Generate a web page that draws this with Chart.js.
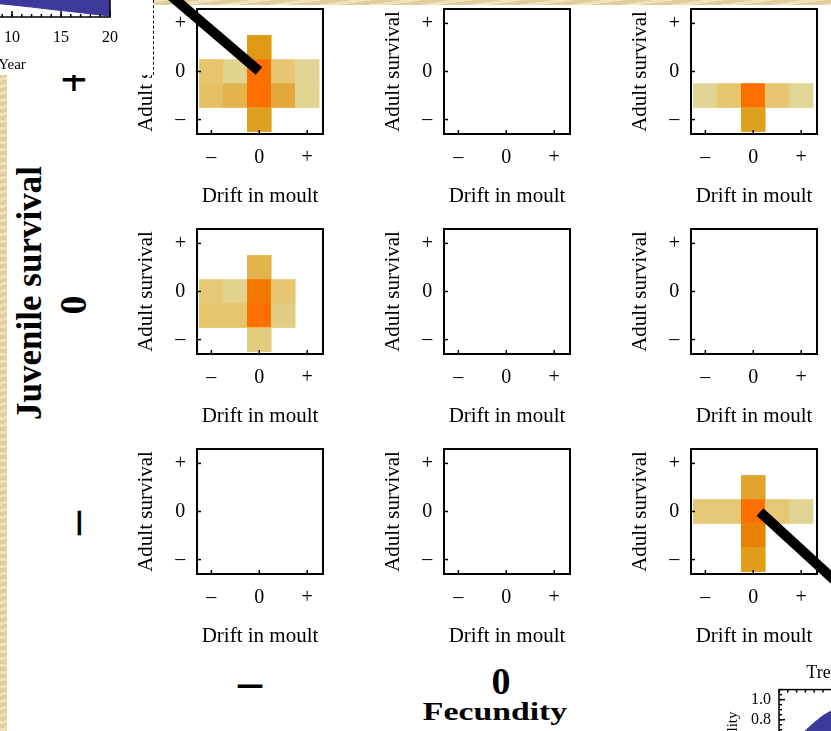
<!DOCTYPE html>
<html>
<head>
<meta charset="utf-8">
<script src="https://cdn.jsdelivr.net/npm/chart.js@4.4.1/dist/chart.umd.min.js"></script>
<style>
html, body { margin: 0; padding: 0; }
body {
  width: 831px; height: 731px; overflow: hidden; position: relative;
  background-color: #e9d6a8;
  background-image: repeating-linear-gradient(172deg, rgba(255,248,228,.35) 0 3px, rgba(196,164,100,.18) 3px 7px);
}
#slide { position: absolute; left: 7px; top: 5px; right: 0; bottom: 0; background: #fff; }
canvas { position: absolute; }
.big {
  position: absolute; font-family: 'Liberation Serif', serif; font-weight: bold; color: #000;
  white-space: nowrap; line-height: 1; transform: translate(-50%, -50%);
}
.rot { transform: translate(-50%, -50%) rotate(-90deg); }
.inset { position: absolute; background: #fff; overflow: hidden; }
.arrow { position: absolute; height: 10px; background: #000; transform-origin: 0 50%; }
</style>
</head>
<body>
<div id="slide"></div>

<div class="big rot" style="left:29px;top:293px;font-size:35px">Juvenile survival</div>
<div class="big" style="left:74px;top:80px;font-size:48px">+</div>
<div class="big rot" style="left:73px;top:305px;font-size:38px">0</div>
<div class="big rot" style="left:75px;top:523px;font-size:48px">–</div>
<div class="big" style="left:250px;top:682px;font-size:48px">–</div>
<div class="big" style="left:501px;top:681px;font-size:38px">0</div>
<div class="big" style="left:495px;top:711px;font-size:25px;transform:translate(-50%,-50%) scaleX(1.35)">Fecundity</div>

<div id="panels"></div>

<div class="inset" id="insetTL" style="left:0;top:0;width:153px;height:75px;border-right:1.5px dashed #000"></div>
<div class="inset" id="insetBR" style="left:700px;top:650px;width:131px;height:81px"></div>

<div class="arrow" style="left:170px;top:-10px;width:117px;transform:rotate(40.5deg)"></div>
<div class="arrow" style="left:760px;top:507px;width:115px;transform:rotate(42.5deg)"></div>

<script>
// tick labels shared by every small panel
const tickValues = [-1, 0, 1];
const tickLabels = ['–', '0', '+'];

// cells: [drift in moult, adult survival, intensity 0..1]
const panelJuvPlusFecMinus = [
  [0, 0.5, 0.75],
  [-1, 0, 0.27], [-0.5, 0, 0.06], [0, 0, 1], [0.5, 0, 0.25], [1, 0, 0.02],
  [-1, -0.5, 0.33], [-0.5, -0.5, 0.5], [0, -0.5, 1], [0.5, -0.5, 0.6], [1, -0.5, 0.05],
  [0, -1, 0.7]
];
const panelJuvPlusFecZero = [];
const panelJuvPlusFecPlus = [
  [-1, -0.5, 0.02], [-0.5, -0.5, 0.27], [0, -0.5, 1], [0.5, -0.5, 0.25], [1, -0.5, 0],
  [0, -1, 0.7]
];
const panelJuvZeroFecMinus = [
  [0, 0.5, 0.5],
  [-1, 0, 0.2], [-0.5, 0, 0.06], [0, 0, 0.94], [0.5, 0, 0.25],
  [-1, -0.5, 0.27], [-0.5, -0.5, 0.27], [0, -0.5, 1], [0.5, -0.5, 0.14],
  [0, -1, 0.16]
];
const panelJuvZeroFecZero = [];
const panelJuvZeroFecPlus = [];
const panelJuvMinusFecMinus = [];
const panelJuvMinusFecZero = [];
const panelJuvMinusFecPlus = [
  [0, 0.5, 0.65],
  [-1, 0, 0.22], [-0.5, 0, 0.22], [0, 0, 1], [0.5, 0, 0.22], [1, 0, 0.03],
  [0, -0.5, 0.88],
  [0, -1, 0.72]
];

// inset charts (only partly visible)
const yearTL = [0, 2, 4, 6, 8, 10, 12, 14, 16, 18, 20];
const valueTL = [0.18, 0.16, 0.145, 0.128, 0.11, 0.095, 0.078, 0.06, 0.043, 0.025, 0.008];
const yearBR = [0, 1, 2, 3, 4, 5, 6, 7, 8, 10, 12, 15, 20];
const valueBR = [0.30, 0.46, 0.59, 0.69, 0.77, 0.84, 0.89, 0.93, 0.95, 0.97, 0.98, 0.99, 1.0];
const trendTicks = [0, 0.2, 0.4, 0.6, 0.8, 1.0];

const serif = 'Liberation Serif';
const blue = '#3b3a98';
const cellHalf = 0.25;
const rampStops = [0, 0.25, 0.5, 0.6, 0.75, 0.88, 1];
const rampRgb = [[224,214,152],[230,198,112],[227,180,76],[226,168,58],[222,154,18],[232,130,5],[253,111,0]];

Chart.defaults.font.family = serif;
Chart.defaults.color = '#000';

function ramp(v) {
  let i = 1;
  while (i < rampStops.length - 1 && v > rampStops[i]) i++;
  const t = Math.max(0, Math.min(1, (v - rampStops[i-1]) / (rampStops[i] - rampStops[i-1])));
  const c = rampRgb[i-1].map((a, k) => Math.round(a + (rampRgb[i][k] - a) * t));
  return 'rgb(' + c.join(',') + ')';
}

// frame round the plot area plus small ticks pointing inwards
const boxPlugin = {
  id: 'box',
  afterDraw(chart, args, o) {
    const ctx = chart.ctx, a = chart.chartArea;
    ctx.save();
    ctx.strokeStyle = '#000';
    ctx.lineWidth = o.width;
    ctx.strokeRect(a.left, a.top, a.right - a.left, a.bottom - a.top);
    ctx.lineWidth = 1.5;
    o.marks.forEach(m => {
      const s = chart.scales[m.axis];
      const n = Math.round((m.to - m.from) / m.step);
      for (let k = 0; k <= n; k++) {
        const p = s.getPixelForValue(m.from + k * m.step);
        ctx.beginPath();
        if (m.edge === 'bottom') { ctx.moveTo(p, a.bottom); ctx.lineTo(p, a.bottom - m.len); }
        if (m.edge === 'top') { ctx.moveTo(p, a.top); ctx.lineTo(p, a.top + m.len); }
        if (m.edge === 'left') { ctx.moveTo(a.left, p); ctx.lineTo(a.left + m.len, p); }
        ctx.stroke();
      }
    });
    ctx.restore();
  }
};

// keep chart areas where they are: no extra room for half labels
function fixX(h) { return s => { s.height = h; s.paddingLeft = 0; s.paddingRight = 0; }; }
function fixY(w) { return s => { s.width = w; s.paddingTop = 0; s.paddingBottom = 0; }; }

function addCanvas(parent, left, top, w, h) {
  const cv = document.createElement('canvas');
  cv.width = w; cv.height = h;
  cv.style.left = left + 'px'; cv.style.top = top + 'px';
  parent.appendChild(cv);
  return cv;
}

function panel(cells, col, row) {
  const cv = addCanvas(document.getElementById('panels'), 130 + 247 * col, 220 * row, 247, 220);
  new Chart(cv, {
    type: 'bar',
    data: {
      datasets: [{
        data: cells.map(c => ({ x: c[0], y: [c[1] - cellHalf, c[1] + cellHalf] })),
        backgroundColor: cells.map(c => ramp(c[2])),
        borderWidth: 0,
        barPercentage: 1,
        categoryPercentage: 1
      }]
    },
    options: {
      responsive: false,
      animation: false,
      layout: { padding: { top: 9, right: 54, left: 0, bottom: 0 } },
      plugins: {
        legend: { display: false },
        tooltip: { enabled: false },
        box: { width: 2, marks: [
          { axis: 'x', edge: 'bottom', from: -1, to: 1, step: 1, len: 4 },
          { axis: 'y', edge: 'left', from: -1, to: 1, step: 1, len: 4 }
        ] }
      },
      scales: {
        x: {
          type: 'linear', min: -1.3, max: 1.33, offset: false,
          grid: { display: false, offset: false }, border: { display: false },
          afterBuildTicks: s => { s.ticks = tickValues.map(v => ({ value: v })); },
          afterFit: fixX(86),
          ticks: { padding: 4, autoSkip: false, font: { size: 20 }, callback: (v, i) => tickLabels[i] },
          title: { display: true, text: 'Drift in moult', font: { size: 21 }, padding: { top: 0, bottom: 11 } }
        },
        y: {
          type: 'linear', min: -1.3, max: 1.3,
          grid: { display: false }, border: { display: false },
          afterBuildTicks: s => { s.ticks = tickValues.map(v => ({ value: v })); },
          afterFit: fixY(67),
          ticks: { padding: 3, autoSkip: false, crossAlign: 'center', font: { size: 20 }, callback: (v, i) => tickLabels[i] },
          title: { display: true, text: 'Adult survival', font: { size: 21 }, padding: { top: 4, bottom: 0 } }
        }
      }
    },
    plugins: [boxPlugin]
  });
}

panel(panelJuvPlusFecMinus, 0, 0);
panel(panelJuvPlusFecZero, 1, 0);
panel(panelJuvPlusFecPlus, 2, 0);
panel(panelJuvZeroFecMinus, 0, 1);
panel(panelJuvZeroFecZero, 1, 1);
panel(panelJuvZeroFecPlus, 2, 1);
panel(panelJuvMinusFecMinus, 0, 2);
panel(panelJuvMinusFecZero, 1, 2);
panel(panelJuvMinusFecPlus, 2, 2);

// top-left inset: blue area above the line, cut by the slide edge
new Chart(addCanvas(document.getElementById('insetTL'), -154, -120, 304, 200), {
  type: 'line',
  data: { datasets: [{
    data: yearTL.map((x, i) => ({ x: x, y: valueTL[i] })),
    borderColor: blue, backgroundColor: blue, borderWidth: 1, pointRadius: 0, fill: 'end'
  }] },
  options: {
    responsive: false, animation: false,
    layout: { padding: { top: 10, right: 40, left: 0, bottom: 0 } },
    plugins: {
      legend: { display: false }, tooltip: { enabled: false },
      box: { width: 1.5, marks: [
        { axis: 'x', edge: 'bottom', from: 0, to: 20, step: 1, len: 3 },
        { axis: 'x', edge: 'bottom', from: 0, to: 20, step: 5, len: 6 }
      ] }
    },
    scales: {
      x: {
        type: 'linear', min: 0, max: 20,
        grid: { display: false }, border: { display: false },
        afterFit: fixX(63),
        ticks: { stepSize: 5, padding: 3, font: { size: 16 } },
        title: { display: true, text: 'Year', font: { size: 15 }, padding: { top: 0, bottom: 6 } }
      },
      y: {
        type: 'linear', min: 0, max: 1,
        grid: { display: false }, border: { display: false },
        afterFit: fixY(68),
        ticks: { stepSize: 0.2, font: { size: 15 } }
      }
    }
  },
  plugins: [boxPlugin]
});

// bottom-right inset: rising blue curve, mostly off the slide
new Chart(addCanvas(document.getElementById('insetBR'), 0, 0, 275, 180), {
  type: 'line',
  data: { datasets: [{
    data: yearBR.map((x, i) => ({ x: x, y: valueBR[i] })),
    borderColor: blue, backgroundColor: blue, borderWidth: 1, pointRadius: 0, fill: 'origin', tension: 0.3
  }] },
  options: {
    responsive: false, animation: false,
    layout: { padding: { top: 0, right: 20, left: 0, bottom: 0 } },
    plugins: {
      legend: { display: false }, tooltip: { enabled: false },
      title: { display: true, text: 'Trend', color: '#000', font: { size: 18, weight: 'normal' }, padding: { top: 12, bottom: 6 } },
      box: { width: 1.5, marks: [
        { axis: 'y', edge: 'left', from: 0, to: 1.1, step: 0.05, len: 3 },
        { axis: 'y', edge: 'left', from: 0, to: 1, step: 0.2, len: 6 },
        { axis: 'x', edge: 'top', from: 0, to: 20, step: 1, len: 3 }
      ] }
    },
    scales: {
      x: {
        type: 'linear', min: 0, max: 20,
        grid: { display: false }, border: { display: false },
        afterFit: fixX(30),
        ticks: { stepSize: 5, font: { size: 15 } }
      },
      y: {
        type: 'linear', min: 0, max: 1.1,
        grid: { display: false }, border: { display: false },
        afterBuildTicks: s => { s.ticks = trendTicks.map(v => ({ value: v })); },
        afterFit: fixY(79),
        ticks: { padding: 0, autoSkip: false, font: { size: 16 }, callback: v => v.toFixed(1) },
        title: { display: true, text: 'Probability', font: { size: 15 }, padding: { top: 24, bottom: 0 } }
      }
    }
  },
  plugins: [boxPlugin]
});
</script>
</body>
</html>
